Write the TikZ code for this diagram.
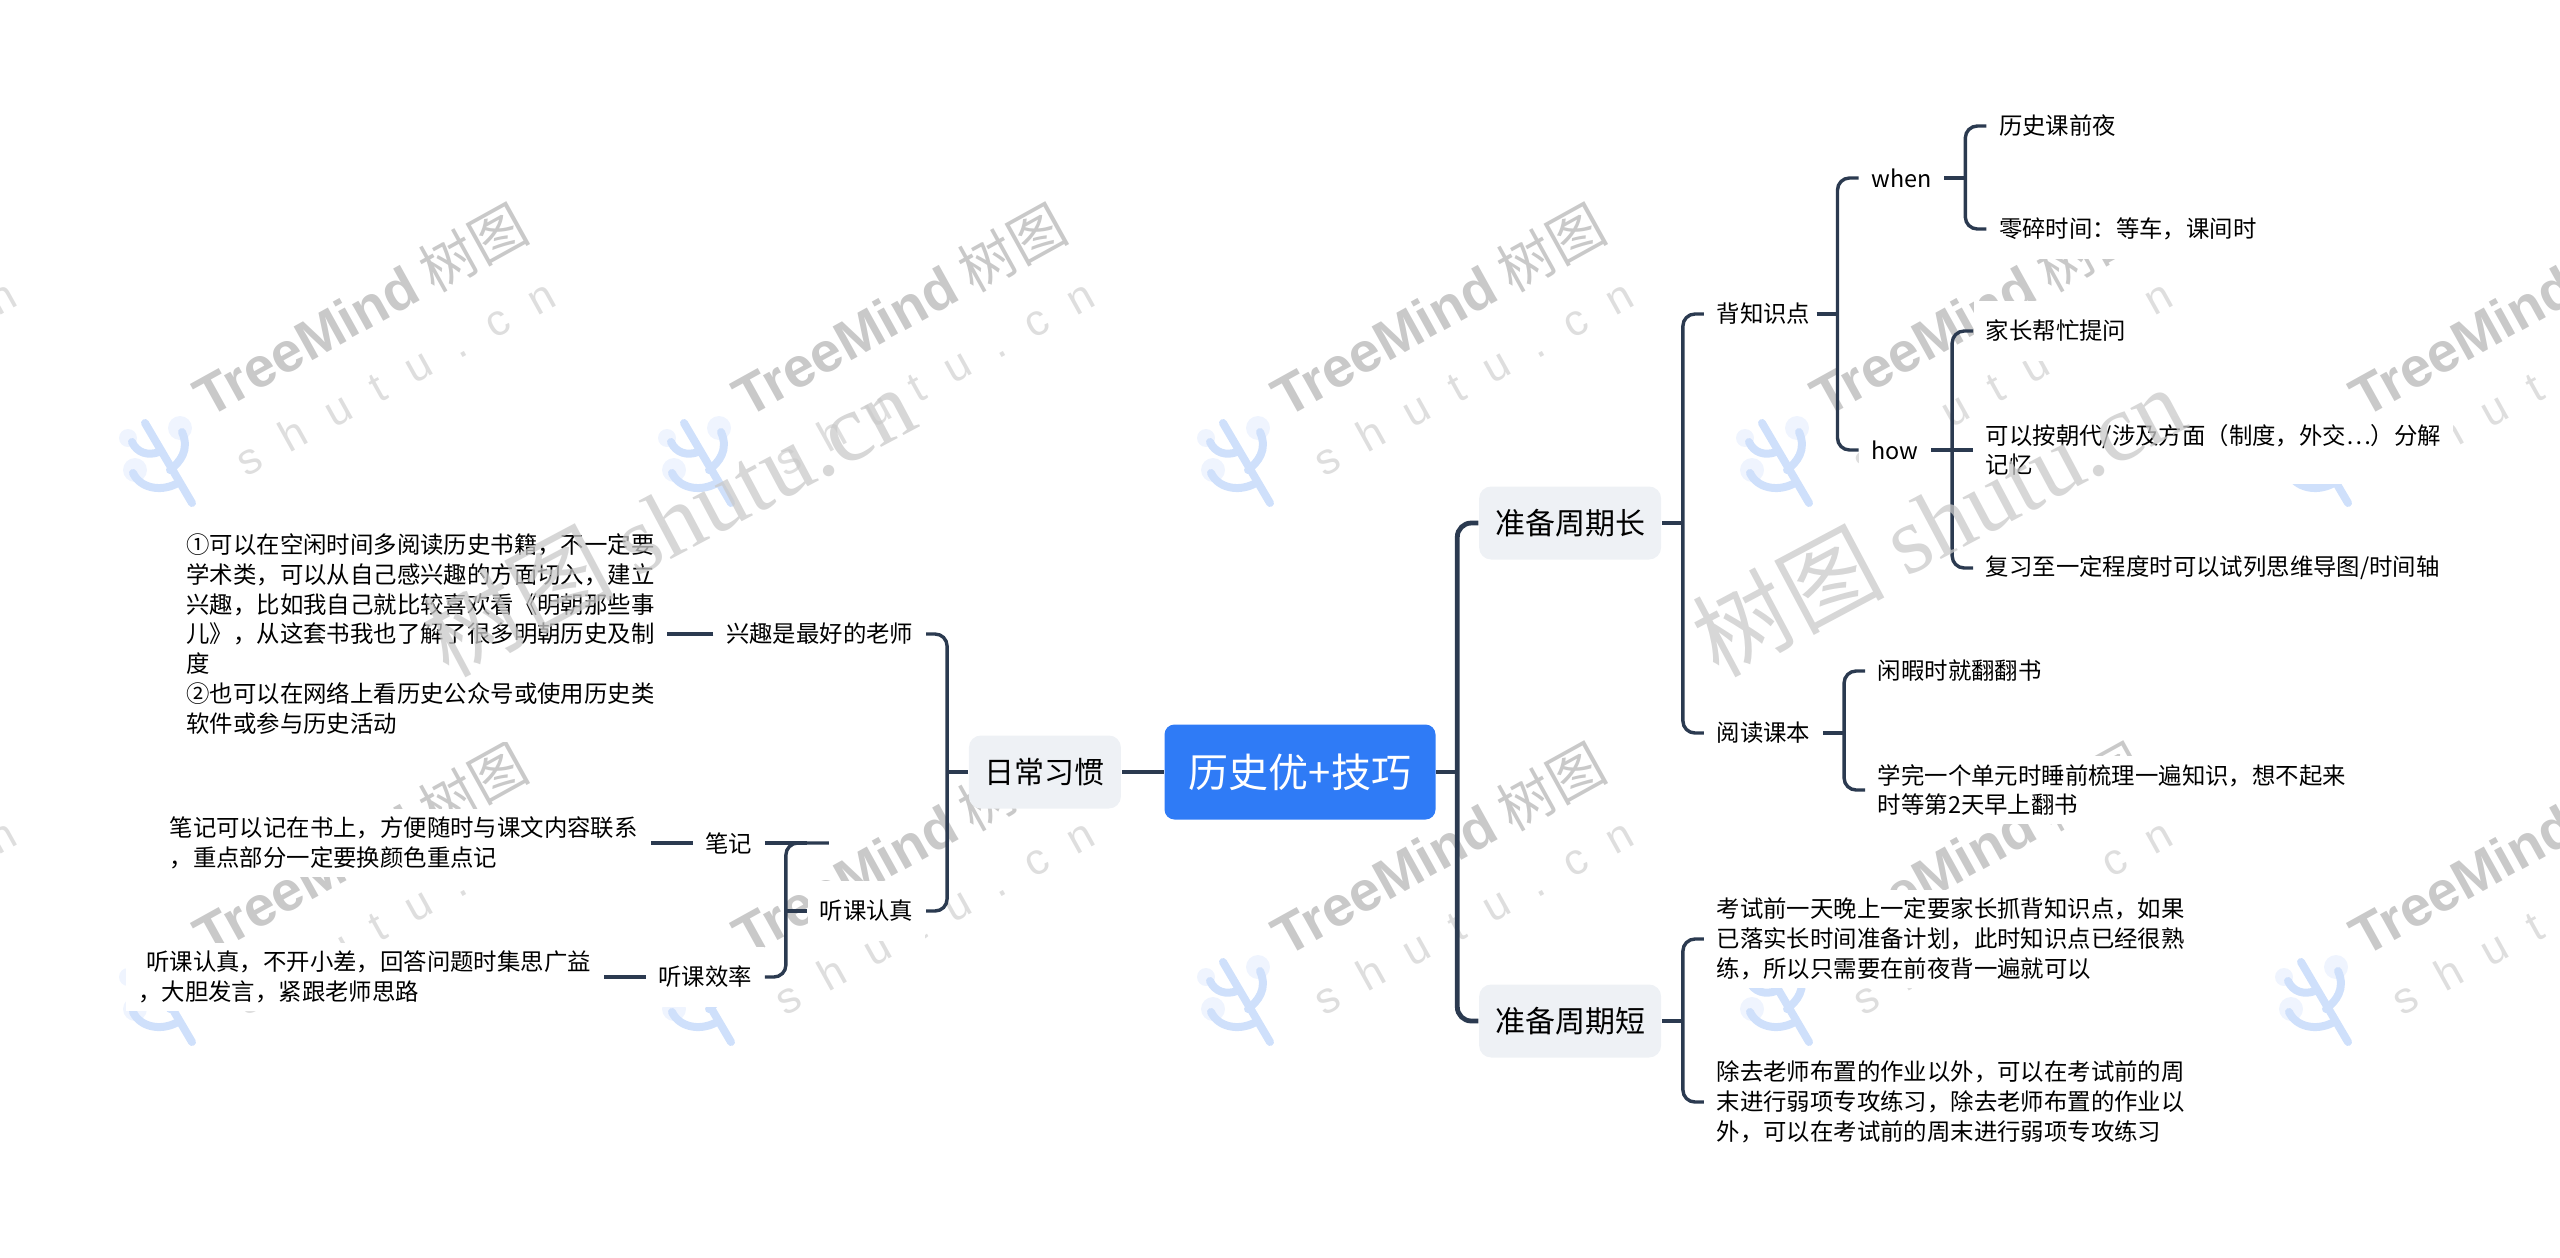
\documentclass[tikz,border=0pt]{standalone}
\usepackage{fontspec}
\usepackage{xcolor}
\usepackage{tikz}
\usetikzlibrary{positioning}
\setmainfont{Noto Sans CJK SC}
\newfontfamily\brandfont{Liberation Sans}[Scale=1]
\newfontfamily\urlfont{Liberation Sans}[LetterSpace=62]
\newfontfamily\bigfont{Liberation Serif}
\definecolor{linkcol}{HTML}{2B3A50}
\definecolor{rootcol}{HTML}{2F7BF6}
\definecolor{topiccol}{HTML}{EEF1F5}
\definecolor{markgray}{HTML}{C9C9C9}
\definecolor{urlgray}{HTML}{DEDEDE}
\definecolor{logocol}{HTML}{CFE0FB}
\definecolor{halocol}{HTML}{EFF4FE}

\begin{document}
\begin{tikzpicture}[x=0.5pt, y=-0.5pt, node distance=21pt, auto, thick]
    % Styles
    \tikzstyle{rootbox}=[rectangle, rounded corners=5pt, minimum width=135.5pt, minimum height=47.5pt, text=white, fill=rootcol, font=\fontsize{20}{24}\selectfont]
    \tikzstyle{topicbox}=[rectangle, rounded corners=6pt, minimum height=36.5pt, inner xsep=8pt, inner ysep=0pt, fill=topiccol, font=\fontsize{15}{18}\selectfont]
    \tikzstyle{leafbox}=[rectangle, minimum height=30pt, inner xsep=6pt, inner ysep=4pt, fill=white, align=left, font=\fontsize{11.7}{14.85}\selectfont]
    \tikzstyle{mainlink}=[line width=2.4pt, color=linkcol, rounded corners=7pt]
    \tikzstyle{link}=[line width=1.7pt, color=linkcol, rounded corners=6pt]
    \tikzstyle{halo}=[fill=halocol]
    \tikzstyle{logoline}=[line width=4pt, color=logocol, line cap=round]

    \useasboundingbox (0,0) rectangle (2560,1258);
    \clip (0,0) rectangle (2560,1258);

    % Watermark tiles
    \foreach \col in {-1,...,4} {
        \foreach \row in {0,1} {
            \node (tree\col\row) [rotate=29, text=markgray, font=\fontsize{28}{32}\selectfont] at (360+539*\col,310+539*\row) {{\brandfont\bfseries TreeMind} 树图};
            \node (url\col\row) [rotate=29, text=urlgray, font=\fontsize{22}{26}\selectfont] at (395+539*\col,377+539*\row) {\urlfont shutu.cn};
            \begin{scope}[shift={(539*\col,539*\row)}]
                \fill [halo] (128,438) circle (4.5pt) (180,428) circle (6pt) (135,470) circle (6pt);
                \draw [logoline] (145,423) -- (192,503);
                \draw [logoline] (182,432) .. controls (190,450) and (180,462) .. (170,470);
                \draw [logoline] (132,442) .. controls (137,453) and (148,456) .. (159,452);
                \draw [logoline] (133,473) .. controls (140,488) and (160,492) .. (176,484);
            \end{scope}
        }
    }

    % Nodes, right side
    \node (root) [rootbox] at (1300,772) {历史优+技巧};
    \node (long) [topicbox, right=of root, yshift=124.5pt] {准备周期长};
    \node (short) [topicbox, right=of root, yshift=-124.5pt] {准备周期短};
    \node (recite) [leafbox, text width=43.5pt, right=of long, yshift=104.5pt] {背知识点};
    \node (reading) [leafbox, right=of long, yshift=-105pt] {阅读课本};
    \node (when) [leafbox, right=of recite, yshift=68pt] {when};
    \node (how) [leafbox, right=of recite, yshift=-68pt] {how};
    \node (eve) [leafbox, right=of when, yshift=26pt] {历史课前夜};
    \node (spare) [leafbox, right=of when, yshift=-25.5pt] {零碎时间：等车，课间时};
    \node (parents) [leafbox, right=of how, yshift=59.5pt] {家长帮忙提问};
    \node (split) [leafbox, right=of how] {可以按朝代/涉及方面（制度，外交…）分解\\记忆};
    \node (review) [leafbox, right=of how, yshift=-59pt] {复习至一定程度时可以试列思维导图/时间轴};
    \node (leisure) [leafbox, right=of reading, yshift=31pt] {闲暇时就翻翻书};
    \node (unit) [leafbox, right=of reading, yshift=-28.5pt] {学完一个单元时睡前梳理一遍知识，想不起来\\时等第2天早上翻书};
    \node (examnight) [leafbox, right=of short, yshift=41pt] {考试前一天晚上一定要家长抓背知识点，如果\\已落实长时间准备计划，此时知识点已经很熟\\练，所以只需要在前夜背一遍就可以};
    \node (weekend) [leafbox, right=of short, yshift=-40.5pt] {除去老师布置的作业以外，可以在考试前的周\\末进行弱项专攻练习，除去老师布置的作业以\\外，可以在考试前的周末进行弱项专攻练习};

    % Nodes, left side
    \node (daily) [topicbox, left=of root] {日常习惯};
    \node (interest) [leafbox, left=of daily, yshift=69pt] {兴趣是最好的老师};
    \node (listen) [leafbox, left=of daily, yshift=-69.5pt] {听课认真};
    \node (books) [leafbox, left=23pt of interest] {①可以在空闲时间多阅读历史书籍，不一定要\\学术类，可以从自己感兴趣的方面切入，建立\\兴趣，比如我自己就比较喜欢看《明朝那些事\\儿》，从这套书我也了解了很多明朝历史及制\\度\\②也可以在网络上看历史公众号或使用历史类\\软件或参与历史活动};
    \node (notes) [leafbox, left=of listen, yshift=34pt] {笔记};
    \node (focus) [leafbox, left=of listen, yshift=-33pt] {听课效率};
    \node (notetext) [leafbox, left=of notes] {笔记可以记在书上，方便随时与课文内容联系\\，重点部分一定要换颜色重点记};
    \node (focustext) [leafbox, left=of focus] {\hspace*{4pt}听课认真，不开小差，回答问题时集思广益\\，大胆发言，紧跟老师思路};

    % Joints
    \coordinate [right=10.5pt of root] (rootright);
    \coordinate [left=10.5pt of root] (rootleft);
    \coordinate [right=10.5pt of long] (longjoint);
    \coordinate [right=10.5pt of short] (shortjoint);
    \coordinate [right=10.5pt of recite] (recitejoint);
    \coordinate [right=10.5pt of reading] (readingjoint);
    \coordinate [right=10.5pt of when] (whenjoint);
    \coordinate [right=10.5pt of how] (howjoint);
    \coordinate [left=10.5pt of daily] (dailyjoint);
    \coordinate [left=10.5pt of listen] (listenjoint);
    \coordinate [right=21pt of notes] (notesstub);
    \coordinate [right=11pt of notesstub] (notestop);

    % Links
    \draw [mainlink] (root.west) -- (daily.east);
    \draw [mainlink] (root.east) -- (rootright);
    \draw [mainlink] (long.west) -| (rootright) |- (short.west);
    \draw [link] (long.east) -- (longjoint);
    \draw [link] (recite.west) -| (longjoint) |- (reading.west);
    \draw [link] (recite.east) -- (recitejoint);
    \draw [link] (when.west) -| (recitejoint) |- (how.west);
    \draw [link] (when.east) -- (whenjoint);
    \draw [link] (eve.west) -| (whenjoint) |- (spare.west);
    \draw [link] (how.east) -- (split.west);
    \draw [link] (parents.west) -| (howjoint) |- (review.west);
    \draw [link] (reading.east) -- (readingjoint);
    \draw [link] (leisure.west) -| (readingjoint) |- (unit.west);
    \draw [link] (short.east) -- (shortjoint);
    \draw [link] (examnight.west) -| (shortjoint) |- (weekend.west);
    \draw [link] (daily.west) -- (dailyjoint);
    \draw [link] (interest.east) -| (dailyjoint) |- (listen.east);
    \draw [link] (interest.west) -- (books.east);
    \draw [link] (listen.west) -- (listenjoint);
    \draw [link] (notestop) -| (listenjoint) |- (focus.east);
    \draw [link] (notes.east) -- (notesstub);
    \draw [link] (notes.west) -- (notetext.east);
    \draw [link] (focus.west) -- (focustext.east);

    % Large watermark
    \node (bigright) [rotate=28, text=markgray, opacity=0.75, font=\fontsize{48}{52}\selectfont] at (1938,520) {树图 {\bigfont shutu.cn}};
    \node (bigleft) [rotate=28, text=markgray, opacity=0.75, font=\fontsize{48}{52}\selectfont] at (668,520) {树图 {\bigfont shutu.cn}};
\end{tikzpicture}
\end{document}
